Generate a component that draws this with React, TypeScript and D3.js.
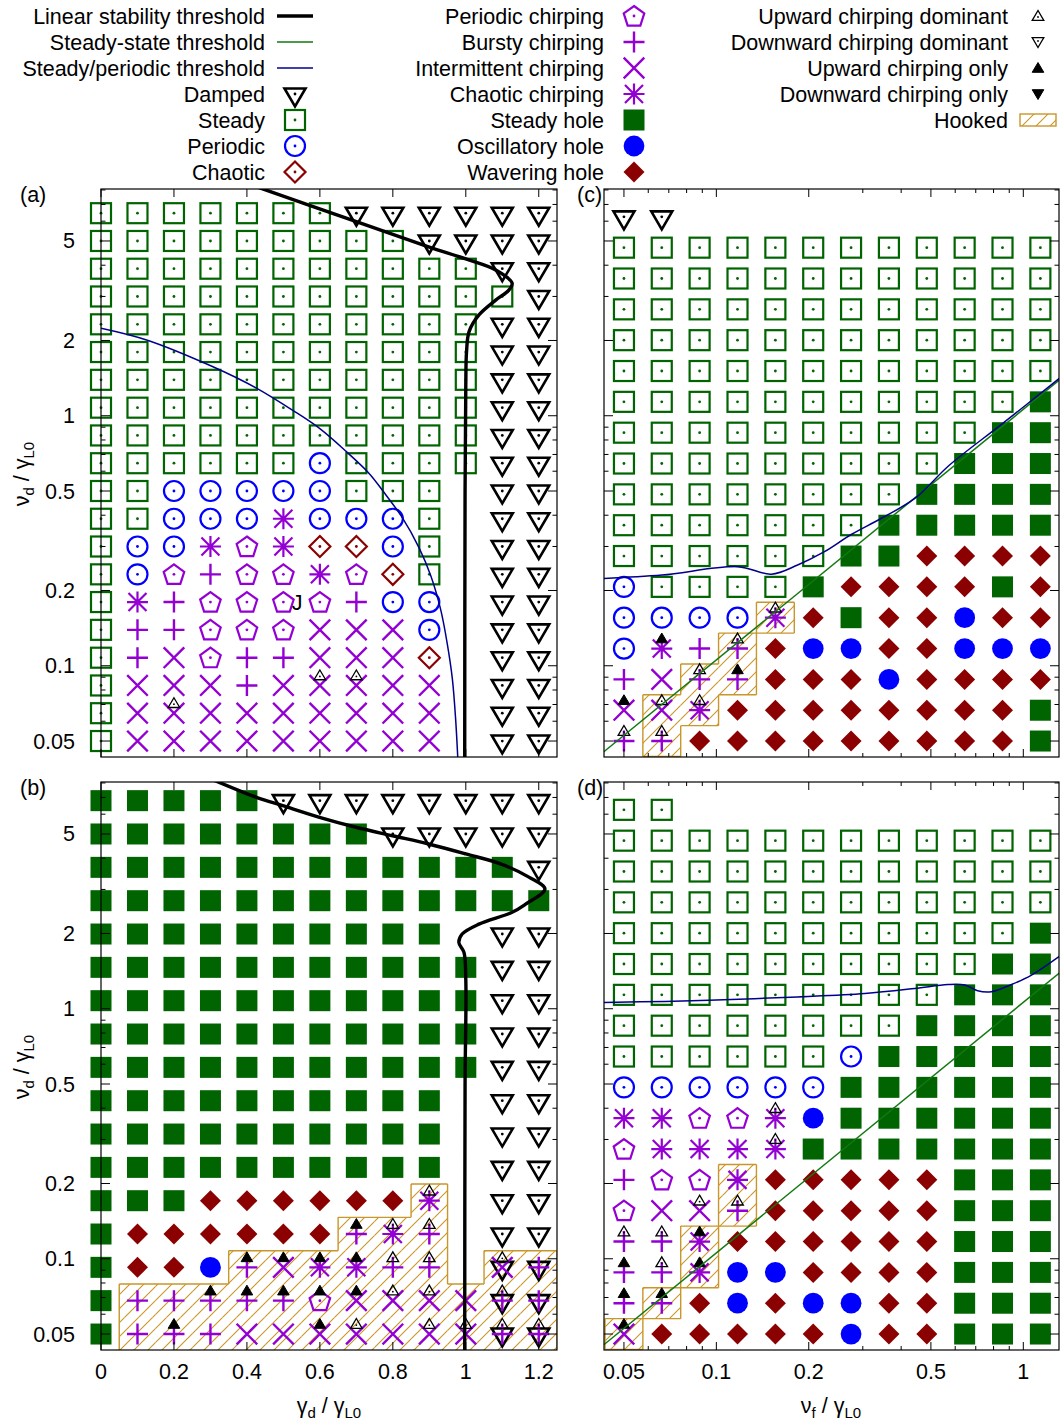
import React from 'react';
import * as d3 from 'd3';

const FONT = '"Liberation Sans", Arial, Helvetica, sans-serif';
const FS = 21.5;

const GREEN = '#006400';
const BLUE = '#0000ff';
const DRED = '#8b0000';
const PURPLE = '#9400d3';
const GOLD = '#c8962a';
const LINE_GREEN = '#127812';
const LINE_BLUE = '#00008b';

// ---------------- grid values ----------------
const gammaD = [0, 0.1, 0.2, 0.3, 0.4, 0.5, 0.6, 0.7, 0.8, 0.9, 1.0, 1.1, 1.2];
const nuDGridA = [0.05, 0.0646, 0.0834, 0.1077, 0.1392, 0.1798, 0.2321, 0.2999, 0.3873, 0.5, 0.6458, 0.834, 1.077, 1.392, 1.798, 2.321, 2.999, 3.873, 5.0, 6.458];
const nuDGridB = [0.05, 0.068, 0.0924, 0.1256, 0.1707, 0.232, 0.3154, 0.4287, 0.5828, 0.7923, 1.077, 1.464, 1.99, 2.705, 3.677, 5.0, 6.796];
const nuDGridCD = [0.05, 0.0664, 0.0882, 0.1172, 0.1557, 0.2068, 0.2747, 0.3649, 0.4848, 0.644, 0.8555, 1.1365, 1.5097, 2.0055, 2.664, 3.539, 4.701, 6.245];
const nuFGrid = [0.05, 0.0664, 0.0882, 0.1172, 0.1557, 0.2068, 0.2747, 0.3649, 0.4848, 0.644, 0.8555, 1.1365];

// codes: d damped, s steady, p periodic, c chaotic, q periodic chirping, b bursty,
// i intermittent, a chaotic chirping, H steady hole, O oscillatory hole, W wavering hole
// overlays: ^ upward dominant, A upward only, v downward dominant, V downward only
const regimesA = [
  's s s s s s s d d d d d d',
  's s s s s s s s s d d d d',
  's s s s s s s s s s s d d',
  's s s s s s s s s s s s d',
  's s s s s s s s s s s d d',
  's s s s s s s s s s s d d',
  's s s s s s s s s s s d d',
  's s s s s s s s s s s d d',
  's s s s s s s s s s s d d',
  's s s s s s p s s s s d d',
  's s p p p p p s s s . d d',
  's s p p p a p p p s . d d',
  's p p a q a c c p s . d d',
  's p q b q q a q c s . d d',
  's a b q q q q b p p . d d',
  's b b q q q i i i p . d d',
  's b i q b b i i i c . d d',
  's i i i b i i^ i^ i i . d d',
  's i i^ i i i i i i i . d d',
  's i i i i i i i i i . d d',
];

const regimesB = [
  'H H H H H d d d d d d d d',
  'H H H H H H H H d d d d d',
  'H H H H H H H H H H H H d',
  'H H H H H H H H H H H H H',
  'H H H H H H H H H H . d d',
  'H H H H H H H H H H H d d',
  'H H H H H H H H H H H d d',
  'H H H H H H H H H H H d d',
  'H H H H H H H H H H H d d',
  'H H H H H H H H H H . d d',
  'H H H H H H H H H H . d d',
  'H H H H H H H H H H . d d',
  'H H H W W W W W W a^ . d d',
  'H W W W W W W bA a^ b^ . d d',
  'H W W O bA iA aA aA b^ b^ . di^ db',
  'H b b bA bA bA qA iA i^ i^ i db^ db',
  'H b bA b i i iA i^ i i^ i^ db^ db^',
];

const regimesC = [
  'd d . . . . . . . . . .',
  's s s s s s s s s s s s',
  's s s s s s s s s s s s',
  's s s s s s s s s s s s',
  's s s s s s s s s s s s',
  's s s s s s s s s s s s',
  's s s s s s s s s s s H',
  's s s s s s s s s s H H',
  's s s s s s s s s H H H',
  's s s s s s s s H H H H',
  's s s s s s s H H H H H',
  's s s s s s H H W W W W',
  'p s s s s H W W W W H W',
  'p p p p a^ W H W W O W W',
  'p aA b b^ W O O W W O O O',
  'b i b^ bA W W W O W W W W',
  'iA i^ a^ W W W W W W W W H',
  'b^ b^ W W W W W W W W W H',
];

const regimesD = [
  's s . . . . . . . . . .',
  's s s s s s s s s s s s',
  's s s s s s s s s s s s',
  's s s s s s s s s s s s',
  's s s s s s s s s s s H',
  's s s s s s s s s s H H',
  's s s s s s s s s H H H',
  's s s s s s s s H H H H',
  's s s s s s p H H H H H',
  'p p p p p p H H H H H H',
  'a a q q a^ O H H H H H H',
  'q a a a a^ H H H H H H H',
  'b q q a W W W W W H H H',
  'q i i^ b^ W W W W W H H H',
  'b^ b^ aA W W W W W W H H H',
  'bA b^ aA O O W W W W H H H',
  'bA bA W O W O O W W H H H',
  'iA W W W W W O W W H H H',
];

// hooked cells: [column, row-from-bottom]
const hookedB = [
  [1, 0], [2, 0], [3, 0], [4, 0], [5, 0], [6, 0], [7, 0], [8, 0], [9, 0], [10, 0], [11, 0], [12, 0],
  [1, 1], [2, 1], [3, 1], [4, 1], [5, 1], [6, 1], [7, 1], [8, 1], [9, 1], [10, 1], [11, 1], [12, 1],
  [4, 2], [5, 2], [6, 2], [7, 2], [8, 2], [9, 2], [11, 2], [12, 2],
  [7, 3], [8, 3], [9, 3],
  [9, 4],
];
const hookedC = [[1, 0], [1, 1], [2, 1], [2, 2], [3, 2], [3, 3], [4, 4]];
const hookedD = [[0, 0], [1, 1], [2, 2], [2, 3], [3, 4], [3, 5]];

// threshold curves [x, nu_d]
const linThreshA = [[0.42, 8.3], [0.7, 5.97], [0.898, 4.74], [1.0, 4.24], [1.082, 3.83], [1.127, 3.39], [1.118, 3.18], [1.082, 2.9], [1.036, 2.53], [1.009, 2.17], [1.002, 1.8], [1.0, 1.33], [0.998, 0.5], [0.997, 0.04]];
const linThreshB = [[0.31, 8.2], [0.426, 7.01], [0.498, 6.49], [0.599, 5.83], [0.699, 5.32], [0.799, 4.92], [0.898, 4.56], [1.0, 4.16], [1.097, 3.79], [1.173, 3.36], [1.217, 3.01], [1.164, 2.62], [1.127, 2.43], [1.036, 2.18], [0.99, 1.99], [0.981, 1.84], [0.995, 1.68], [1.0, 1.31], [0.998, 0.5], [0.997, 0.04]];
const steadyPeriodicA = [[0, 2.24], [0.125, 2.01], [0.307, 1.57], [0.426, 1.29], [0.526, 1.05], [0.599, 0.89], [0.672, 0.72], [0.735, 0.588], [0.772, 0.502], [0.826, 0.391], [0.872, 0.296], [0.904, 0.229], [0.931, 0.168], [0.949, 0.123], [0.963, 0.089], [0.972, 0.0616], [0.979, 0.04]];
const steadyStateCD = [[0.043, 0.0453], [1.31, 1.39]];
const steadyPeriodicC = [[0.043, 0.2236], [0.0665, 0.2306], [0.1175, 0.249], [0.151, 0.2325], [0.184, 0.253], [0.225, 0.286], [0.275, 0.335], [0.345, 0.389], [0.443, 0.467], [0.575, 0.635], [0.855, 0.93], [1.31, 1.41]];
const steadyPeriodicD = [[0.043, 1.06], [0.0679, 1.07], [0.1118, 1.089], [0.184, 1.115], [0.3045, 1.15], [0.443, 1.205], [0.568, 1.25], [0.645, 1.245], [0.71, 1.18], [0.787, 1.17], [0.915, 1.25], [1.06, 1.36], [1.31, 1.62]];

// ticks
const yMajor = [0.05, 0.1, 0.2, 0.5, 1, 2, 5];
const yMinor = [0.06, 0.07, 0.08, 0.09, 0.3, 0.4, 0.6, 0.7, 0.8, 0.9, 3, 4, 6, 7, 8];
const xLinMajor = [0, 0.2, 0.4, 0.6, 0.8, 1, 1.2];
const xLogMajor = [0.05, 0.1, 0.2, 0.5, 1];
const xLogMinor = [0.06, 0.07, 0.08, 0.09, 0.3, 0.4, 0.6, 0.7, 0.8, 0.9];

const legendCol1 = ['Linear stability threshold', 'Steady-state threshold', 'Steady/periodic threshold', 'Damped', 'Steady', 'Periodic', 'Chaotic'];
const legendCol1Keys = ['Lblack', 'Lgreen', 'Lblue', 'd', 's', 'p', 'c'];
const legendCol2 = ['Periodic chirping', 'Bursty chirping', 'Intermittent chirping', 'Chaotic chirping', 'Steady hole', 'Oscillatory hole', 'Wavering hole'];
const legendCol2Keys = ['q', 'b', 'i', 'a', 'H', 'O', 'W'];
const legendCol3 = ['Upward chirping dominant', 'Downward chirping dominant', 'Upward chirping only', 'Downward chirping only', 'Hooked'];
const legendCol3Keys = ['^', 'v', 'A', 'V', 'hook'];

// ---------------- scales ----------------
const xLin = d3.scaleLinear().domain([0, 1.25]).range([101, 557]);
const xLog = d3.scaleLog().domain([0.04305, 1.307]).range([604, 1059]);
const yTopS = d3.scaleLog().domain([0.04316, 8.07]).range([757, 189]);
const yBotS = d3.scaleLog().domain([0.04316, 8.07]).range([1350, 782]);

function Dot({ color }: { color: string }) {
  return <circle r={1.4} fill={color} />;
}

function MainMarker({ code }: { code: string }) {
  switch (code) {
    case 's':
      return (<g><rect x={-10} y={-10} width={20} height={20} fill="none" stroke={GREEN} strokeWidth={2.2} /><Dot color={GREEN} /></g>);
    case 'H':
      return <rect x={-10.5} y={-10.5} width={21} height={21} fill={GREEN} />;
    case 'p':
      return (<g><circle r={10} fill="none" stroke={BLUE} strokeWidth={2.2} /><Dot color={BLUE} /></g>);
    case 'O':
      return <circle r={10.4} fill={BLUE} />;
    case 'c':
      return (<g><path d="M0,-10.5L10.5,0L0,10.5L-10.5,0Z" fill="none" stroke={DRED} strokeWidth={2.2} /><Dot color={DRED} /></g>);
    case 'W':
      return <path d="M0,-10.5L10.5,0L0,10.5L-10.5,0Z" fill={DRED} />;
    case 'd':
      return (<g><path d="M-10.5,-5.5L10.5,-5.5L0,12.5Z" fill="none" stroke="#000" strokeWidth={2.6} strokeLinejoin="miter" /><Dot color="#000" /></g>);
    case 'q': {
      const r = 10.8;
      const pts = d3.range(5).map((k) => {
        const a = (-90 + 72 * k) * Math.PI / 180;
        return [r * Math.cos(a), r * Math.sin(a) + 0.8];
      });
      return (<g><path d={'M' + pts.map((p) => p.join(',')).join('L') + 'Z'} fill="none" stroke={PURPLE} strokeWidth={2.2} /><Dot color={PURPLE} /></g>);
    }
    case 'b':
      return <path d="M-10.5,0H10.5M0,-10.5V10.5" stroke={PURPLE} strokeWidth={2.4} />;
    case 'i':
      return <path d="M-10.3,-10.3L10.3,10.3M-10.3,10.3L10.3,-10.3" stroke={PURPLE} strokeWidth={2.4} />;
    case 'a':
      return <path d="M-10.5,0H10.5M0,-10.5V10.5M-9,-9L9,9M-9,9L9,-9" stroke={PURPLE} strokeWidth={2.2} />;
    default:
      return null;
  }
}

function SmallMarker({ code }: { code: string }) {
  const up = 'M0,-5.5L5.8,4.3L-5.8,4.3Z';
  const dn = 'M0,5.5L5.8,-4.3L-5.8,-4.3Z';
  switch (code) {
    case '^':
      return (<g><path d={up} fill="none" stroke="#000" strokeWidth={1.3} /><circle r={0.9} cy={1} fill="#000" /></g>);
    case 'A':
      return <path d={up} fill="#000" stroke="#000" strokeWidth={1} />;
    case 'v':
      return (<g><path d={dn} fill="none" stroke="#000" strokeWidth={1.3} /><circle r={0.9} cy={-1} fill="#000" /></g>);
    case 'V':
      return <path d={dn} fill="#000" stroke="#000" strokeWidth={1} />;
    default:
      return null;
  }
}

function Cell({ token, x, y }: { token: string; x: number; y: number }) {
  if (token === '.') return null;
  const chars = token.split('');
  const mainOrder = chars.filter((ch) => 'spcdqbiaHOW'.includes(ch)).sort((a, b) => (a === 'd' ? -1 : b === 'd' ? 1 : 0));
  const overlays = chars.filter((ch) => '^AvV'.includes(ch));
  return (
    <g transform={`translate(${x},${y})`}>
      {mainOrder.map((ch, i) => <MainMarker key={i} code={ch} />)}
      {overlays.map((ch, i) => (
        <g key={'o' + i} transform="translate(0,-10)"><SmallMarker code={ch} /></g>
      ))}
    </g>
  );
}

function bounds(arr: number[], i: number) {
  const n = arr.length;
  const lo = i > 0 ? (arr[i - 1] + arr[i]) / 2 : arr[i] - (arr[i + 1] - arr[i]) / 2;
  const hi = i < n - 1 ? (arr[i] + arr[i + 1]) / 2 : arr[i] + (arr[i] - arr[i - 1]) / 2;
  return [Math.min(lo, hi), Math.max(lo, hi)];
}

type PanelProps = {
  id: string;
  xScale: any;
  yScale: any;
  xGrid: number[];
  yGrid: number[];
  regimes: string[];
  hooked: number[][];
  blackLine?: number[][];
  greenLine?: number[][];
  blueLine?: number[][];
  xIsLog: boolean;
  showXLabels: boolean;
  showYLabels: boolean;
  label: string;
  labelX: number;
  extra?: React.ReactNode;
};

function Panel(props: PanelProps) {
  const { id, xScale, yScale, xGrid, yGrid, regimes, hooked, xIsLog, showXLabels, showYLabels, label, labelX } = props;
  const [left, right] = xScale.range();
  const [bottom, top] = yScale.range();
  const xs = xGrid.map((v) => xScale(v));
  const ys = yGrid.map((v) => yScale(v));
  const nR = yGrid.length;

  const hookSet = new Set(hooked.map(([c, k]) => `${c},${k}`));
  const has = (c: number, k: number) => hookSet.has(`${c},${k}`);
  const hookRects: React.ReactNode[] = [];
  let outline = '';
  hooked.forEach(([c, k], idx) => {
    const [x0, x1] = bounds(xs, c);
    const [y0, y1] = bounds(ys, k); // y0 top (smaller px), y1 bottom
    hookRects.push(<rect key={idx} x={x0} y={y0} width={x1 - x0} height={y1 - y0} fill="url(#hatch)" />);
    if (!has(c - 1, k)) outline += `M${x0},${y0}V${y1}`;
    if (!has(c + 1, k)) outline += `M${x1},${y0}V${y1}`;
    if (!has(c, k + 1)) outline += `M${x0},${y0}H${x1}`;
    if (!has(c, k - 1)) outline += `M${x0},${y1}H${x1}`;
  });

  const line = d3.line<number[]>()
    .x((d) => xScale(d[0]))
    .y((d) => yScale(d[1]))
    .curve(d3.curveCatmullRom.alpha(0.5));

  const clipId = `clip-${id}`;
  const xMaj = xIsLog ? xLogMajor : xLinMajor;
  const xMin = xIsLog ? xLogMinor : [];

  return (
    <g>
      <defs>
        <clipPath id={clipId}><rect x={left} y={top} width={right - left} height={bottom - top} /></clipPath>
      </defs>
      <g clipPath={`url(#${clipId})`}>
        {hookRects}
        <path d={outline} fill="none" stroke={GOLD} strokeWidth={1.4} />
      </g>
      {regimes.map((row, r) => {
        const k = nR - 1 - r;
        return row.split(' ').map((tok, c) => (
          <Cell key={`${r}-${c}`} token={tok} x={xs[c]} y={ys[k]} />
        ));
      })}
      <g clipPath={`url(#${clipId})`}>
        {props.greenLine && <path d={line(props.greenLine) || ''} fill="none" stroke={LINE_GREEN} strokeWidth={1.5} />}
        {props.blueLine && <path d={line(props.blueLine) || ''} fill="none" stroke={LINE_BLUE} strokeWidth={1.5} />}
        {props.blackLine && <path d={line(props.blackLine) || ''} fill="none" stroke="#000" strokeWidth={3.4} />}
      </g>
      <rect x={left} y={top} width={right - left} height={bottom - top} fill="none" stroke="#000" strokeWidth={1.2} />
      {/* y ticks */}
      {yMajor.map((v) => (
        <g key={'ym' + v}>
          <line x1={left} x2={left + 9} y1={yScale(v)} y2={yScale(v)} stroke="#000" strokeWidth={1} />
          <line x1={right} x2={right - 9} y1={yScale(v)} y2={yScale(v)} stroke="#000" strokeWidth={1} />
          {showYLabels && (
            <text x={75} y={yScale(v) + 7.5} textAnchor="end" fontSize={FS} fontFamily={FONT}>{String(v)}</text>
          )}
        </g>
      ))}
      {yMinor.map((v) => (
        <g key={'yn' + v}>
          <line x1={left} x2={left + 4.5} y1={yScale(v)} y2={yScale(v)} stroke="#000" strokeWidth={1} />
          <line x1={right} x2={right - 4.5} y1={yScale(v)} y2={yScale(v)} stroke="#000" strokeWidth={1} />
        </g>
      ))}
      {/* x ticks */}
      {xMaj.map((v) => (
        <g key={'xm' + v}>
          <line x1={xScale(v)} x2={xScale(v)} y1={bottom} y2={bottom - 8} stroke="#000" strokeWidth={1} />
          <line x1={xScale(v)} x2={xScale(v)} y1={top} y2={top + 8} stroke="#000" strokeWidth={1} />
          {showXLabels && (
            <text x={xScale(v)} y={bottom + 29} textAnchor="middle" fontSize={FS} fontFamily={FONT}>{String(v)}</text>
          )}
        </g>
      ))}
      {xMin.map((v) => (
        <g key={'xn' + v}>
          <line x1={xScale(v)} x2={xScale(v)} y1={bottom} y2={bottom - 4} stroke="#000" strokeWidth={1} />
          <line x1={xScale(v)} x2={xScale(v)} y1={top} y2={top + 4} stroke="#000" strokeWidth={1} />
        </g>
      ))}
      <text x={labelX} y={top + 13} fontSize={FS} fontFamily={FONT}>{label}</text>
      {props.extra}
    </g>
  );
}

function Legend() {
  const rowY = [16, 42, 68, 94, 120, 146, 172];
  const textProps = { fontSize: FS, fontFamily: FONT, textAnchor: 'end' as const };
  return (
    <g>
      {legendCol1.map((t, i) => {
        const key = legendCol1Keys[i];
        const y = rowY[i];
        let mk: React.ReactNode = null;
        if (key === 'Lblack') mk = <line x1={277} x2={313} y1={y} y2={y} stroke="#000" strokeWidth={3.4} />;
        else if (key === 'Lgreen') mk = <line x1={277} x2={313} y1={y} y2={y} stroke={LINE_GREEN} strokeWidth={1.5} />;
        else if (key === 'Lblue') mk = <line x1={277} x2={313} y1={y} y2={y} stroke={LINE_BLUE} strokeWidth={1.5} />;
        else mk = <g transform={`translate(295,${y})`}><MainMarker code={key} /></g>;
        return (
          <g key={'l1' + i}>
            <text x={265} y={y + 7.5} {...textProps}>{t}</text>
            {mk}
          </g>
        );
      })}
      {legendCol2.map((t, i) => (
        <g key={'l2' + i}>
          <text x={604} y={rowY[i] + 7.5} {...textProps}>{t}</text>
          <g transform={`translate(634,${rowY[i]})`}><MainMarker code={legendCol2Keys[i]} /></g>
        </g>
      ))}
      {legendCol3.map((t, i) => {
        const key = legendCol3Keys[i];
        const y = rowY[i];
        return (
          <g key={'l3' + i}>
            <text x={1008} y={y + 7.5} {...textProps}>{t}</text>
            {key === 'hook' ? (
              <rect x={1020} y={y - 6} width={36} height={12} fill="url(#hatch)" stroke={GOLD} strokeWidth={1.4} />
            ) : (
              <g transform={`translate(1038,${y})`}><SmallMarker code={key} /></g>
            )}
          </g>
        );
      })}
    </g>
  );
}

function YTitle({ cy }: { cy: number }) {
  return (
    <text transform={`translate(29,${cy}) rotate(-90)`} textAnchor="middle" fontSize={FS} fontFamily={FONT}>
      ν<tspan dy={5} fontSize={15}>d</tspan><tspan dy={-5}> / γ</tspan><tspan dy={5} fontSize={15}>L0</tspan>
    </text>
  );
}

export default function App() {
  return (
    <svg width={1060} height={1422} style={{ position: 'absolute', left: 0, top: 0, background: '#fff' }}>
      <defs>
        <pattern id="hatch" patternUnits="userSpaceOnUse" width={14} height={14}>
          <path d="M0,14L14,0M-3.5,3.5L3.5,-3.5M10.5,17.5L17.5,10.5" stroke={GOLD} strokeWidth={1.1} />
        </pattern>
      </defs>
      <rect x={0} y={0} width={1060} height={1422} fill="#fff" />
      <Legend />
      <Panel id="a" xScale={xLin} yScale={yTopS} xGrid={gammaD} yGrid={nuDGridA} regimes={regimesA} hooked={[]}
        blackLine={linThreshA} blueLine={steadyPeriodicA} xIsLog={false} showXLabels={false} showYLabels={true}
        label="(a)" labelX={20}
        extra={<text x={297} y={610} textAnchor="middle" fontSize={FS} fontFamily={FONT}>J</text>} />
      <Panel id="b" xScale={xLin} yScale={yBotS} xGrid={gammaD} yGrid={nuDGridB} regimes={regimesB} hooked={hookedB}
        blackLine={linThreshB} xIsLog={false} showXLabels={true} showYLabels={true} label="(b)" labelX={20} />
      <Panel id="c" xScale={xLog} yScale={yTopS} xGrid={nuFGrid} yGrid={nuDGridCD} regimes={regimesC} hooked={hookedC}
        greenLine={steadyStateCD} blueLine={steadyPeriodicC} xIsLog={true} showXLabels={false} showYLabels={false}
        label="(c)" labelX={577} />
      <Panel id="d" xScale={xLog} yScale={yBotS} xGrid={nuFGrid} yGrid={nuDGridCD} regimes={regimesD} hooked={hookedD}
        greenLine={steadyStateCD} blueLine={steadyPeriodicD} xIsLog={true} showXLabels={true} showYLabels={false}
        label="(d)" labelX={577} />
      <YTitle cy={474} />
      <YTitle cy={1067} />
      <text x={329} y={1413} textAnchor="middle" fontSize={FS} fontFamily={FONT}>
        γ<tspan dy={5} fontSize={15}>d</tspan><tspan dy={-5}> / γ</tspan><tspan dy={5} fontSize={15}>L0</tspan>
      </text>
      <text x={831} y={1413} textAnchor="middle" fontSize={FS} fontFamily={FONT}>
        ν<tspan dy={5} fontSize={15}>f</tspan><tspan dy={-5}> / γ</tspan><tspan dy={5} fontSize={15}>L0</tspan>
      </text>
    </svg>
  );
}
